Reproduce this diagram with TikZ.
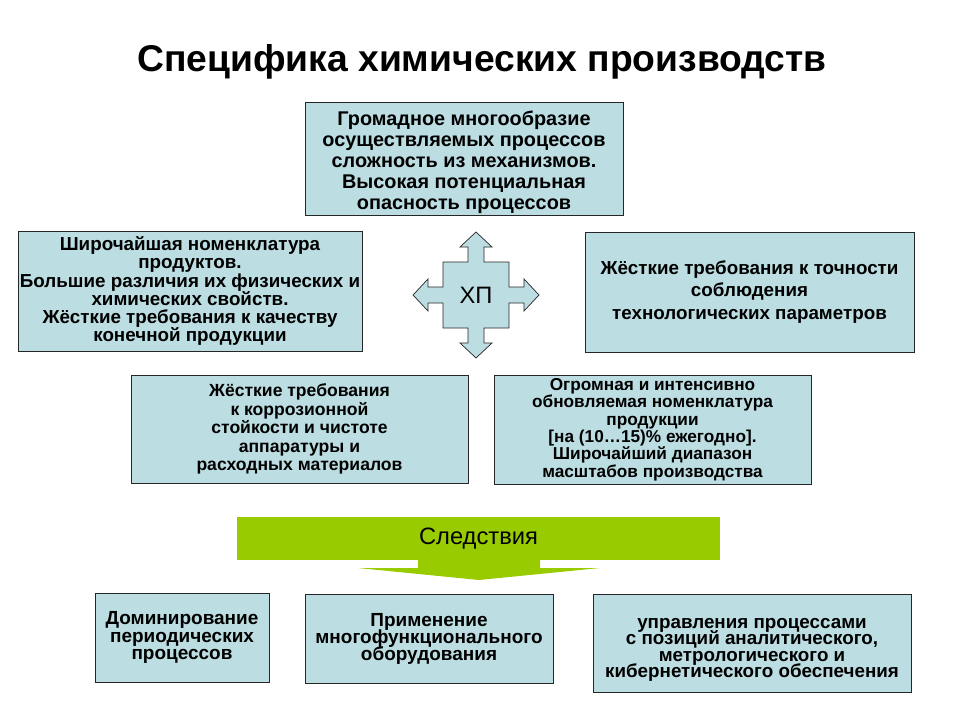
\documentclass[tikz,border=0pt]{standalone}
\usepackage{fontspec}
\setmainfont{Liberation Sans}
\definecolor{boxblue}{RGB}{188,222,226}
\definecolor{leafgreen}{RGB}{153,204,0}
\newcommand{\boxfont}[2]{\bfseries\fontsize{#1}{#2}\selectfont\lineskiplimit=-20pt\relax}
\tikzset{
    box/.style={draw=black!85, fill=boxblue, align=center, inner sep=1pt,
        font=\boxfont{10.8}{10.3}},
}

\begin{document}
\begin{tikzpicture}[x=0.02cm,y=-0.02cm]
        \useasboundingbox (0,0) rectangle (960,720);

        % Title
        \node[font=\bfseries\fontsize{21.2}{25}\selectfont] (title) at (482,62)
            {Специфика химических производств};

        % Upper boxes
        \node[box, minimum width=6.36cm, minimum height=2.24cm,
              font=\boxfont{11.3}{12}] (top) at (464,159)
            {\rule{0pt}{12pt}Громадное многообразие\\ осуществляемых процессов\\ сложность из механизмов.\\ Высокая потенциальная\\ опасность процессов};
        \node[box, minimum width=6.88cm, minimum height=2.40cm, inner xsep=-4pt,
              font=\boxfont{10.7}{10.3}] (prod) at (190,291)
            {Широчайшая номенклатура\\ продуктов.\\ Большие различия их физических и\\ химических свойств.\\ Жёсткие требования к качеству\\ конечной продукции};
        \node[box, minimum width=6.58cm, minimum height=2.40cm,
              font=\boxfont{10.7}{12.8}] (prec) at (749.5,292)
            {Жёсткие требования к точности\\ соблюдения\\ технологических параметров};
        \node[box, minimum width=6.74cm, minimum height=2.16cm,
              font=\boxfont{10}{10.5}] (corr) at (299.5,429)
            {Жёсткие требования\\ к коррозионной\\ стойкости и чистоте\\ аппаратуры и\\ расходных материалов};
        \node[box, minimum width=6.34cm, minimum height=2.18cm,
              font=\boxfont{9.8}{9.9}] (range) at (652.5,429.5)
            {Огромная и интенсивно\\ обновляемая номенклатура\\ продукции\\ {[}на (10\dots15)\% ежегодно{]}.\\ Широчайший диапазон\\ масштабов производства};

        % Cross
        \filldraw[fill=boxblue, draw=black!85, shift={(476,295)}]
            (0,-63) -- (16,-48) -- (8,-48) -- (8,-33) -- (33,-33) -- (33,-8)
            -- (48,-8) -- (48,-16) -- (63,0) -- (48,16) -- (48,8) -- (33,8)
            -- (33,33) -- (8,33) -- (8,48) -- (16,48) -- (0,63) -- (-16,48)
            -- (-8,48) -- (-8,33) -- (-33,33) -- (-33,8) -- (-48,8) -- (-48,16)
            -- (-63,0) -- (-48,-16) -- (-48,-8) -- (-33,-8) -- (-33,-33)
            -- (-8,-33) -- (-8,-48) -- (-16,-48) -- cycle;
        \node[font=\fontsize{13.5}{16}\selectfont] (hp) at (476,295) {ХП};

        % Consequences
        \node[fill=leafgreen, minimum width=9.66cm, minimum height=0.86cm,
              font=\fontsize{13.5}{16}\selectfont] (conseq) at (478.5,538.5) {Следствия};
        \fill[leafgreen] (418,559) -- (418,568) -- (358,568) -- (479,580)
            -- (600,568) -- (540,568) -- (540,559) -- cycle;

        % Lower boxes
        \node[box, minimum width=3.48cm, minimum height=1.78cm,
              font=\boxfont{10.8}{10.2}] (periodic) at (182,637.5)
            {Доминирование\\ периодических\\ процессов};
        \node[box, minimum width=4.96cm, minimum height=1.78cm,
              font=\boxfont{10.8}{9.7}] (multi) at (429,638.5)
            {Применение\\ многофункционального\\ оборудования};
        \node[box, minimum width=6.36cm, minimum height=1.96cm,
              font=\boxfont{10.7}{9.2}] (control) at (752,643)
            {\rule{0pt}{13.6pt}управления процессами\\ с позиций аналитического,\\ метрологического и\\ кибернетического обеспечения};
\end{tikzpicture}
\end{document}
